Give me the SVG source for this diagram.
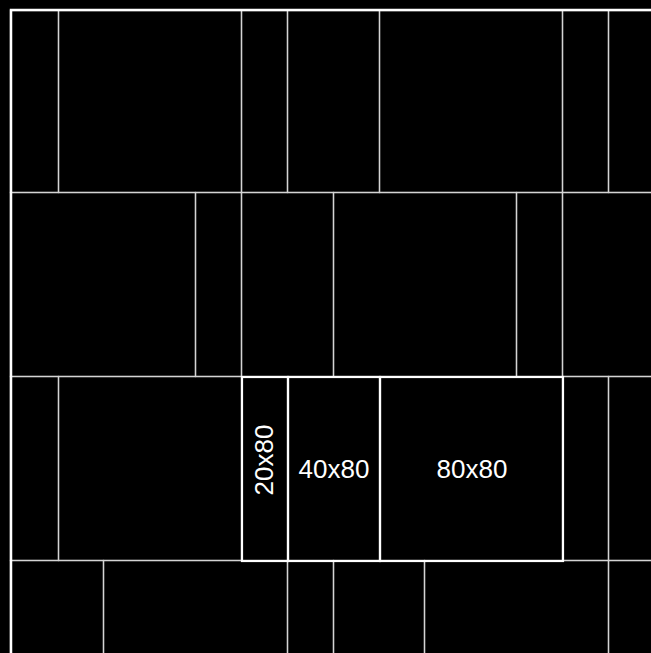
<svg xmlns="http://www.w3.org/2000/svg" width="651" height="653" viewBox="0 0 651 653">
<style>
.c{fill:none;stroke:#d4d4d4;stroke-width:1.3}
.h{fill:none;stroke:#ffffff;stroke-width:2.2}
.t{fill:#ffffff;font-family:"Liberation Sans",Arial,sans-serif;font-size:26px;text-anchor:middle}
</style>
<rect x="0" y="0" width="651" height="653" fill="#000"/>
<g id="row1">
<rect class="c" x="10.5" y="10.5" width="48" height="182"/>
<rect class="c" x="58.5" y="10.5" width="183" height="182"/>
<rect class="c" x="241.5" y="10.5" width="46" height="182"/>
<rect class="c" x="287.5" y="10.5" width="92" height="182"/>
<rect class="c" x="379.5" y="10.5" width="183" height="182"/>
<rect class="c" x="562.5" y="10.5" width="46" height="182"/>
<rect class="c" x="608.5" y="10.5" width="60" height="182"/>
</g>
<g id="row2">
<rect class="c" x="10.5" y="192.5" width="185" height="184"/>
<rect class="c" x="195.5" y="192.5" width="46" height="184"/>
<rect class="c" x="241.5" y="192.5" width="92" height="184"/>
<rect class="c" x="333.5" y="192.5" width="183" height="184"/>
<rect class="c" x="516.5" y="192.5" width="46" height="184"/>
<rect class="c" x="562.5" y="192.5" width="100" height="184"/>
</g>
<g id="row3">
<rect class="c" x="10.5" y="376.5" width="48" height="184"/>
<rect class="c" x="58.5" y="376.5" width="183" height="184"/>
<rect class="c" x="562.5" y="376.5" width="46" height="184"/>
<rect class="c" x="608.5" y="376.5" width="60" height="184"/>
</g>
<g id="row4">
<rect class="c" x="10.5" y="560.5" width="93" height="120"/>
<rect class="c" x="103.5" y="560.5" width="184" height="120"/>
<rect class="c" x="287.5" y="560.5" width="46" height="120"/>
<rect class="c" x="333.5" y="560.5" width="91" height="120"/>
<rect class="c" x="424.5" y="560.5" width="184" height="120"/>
<rect class="c" x="608.5" y="560.5" width="60" height="120"/>
</g>
<g id="box-20x80">
<rect class="h" x="242" y="377" width="46" height="184"/>
<text class="t" transform="translate(273,460) rotate(-90)">20x80</text>
</g>
<g id="box-40x80">
<rect class="h" x="288" y="377" width="92" height="184"/>
<text class="t" x="334" y="478">40x80</text>
</g>
<g id="box-80x80">
<rect class="h" x="380" y="377" width="183" height="184"/>
<text class="t" x="472" y="478">80x80</text>
</g>
<g id="frame">
<path d="M11 660 V10 H660" fill="none" stroke="#ffffff" stroke-width="2.5"/>
</g>
</svg>
